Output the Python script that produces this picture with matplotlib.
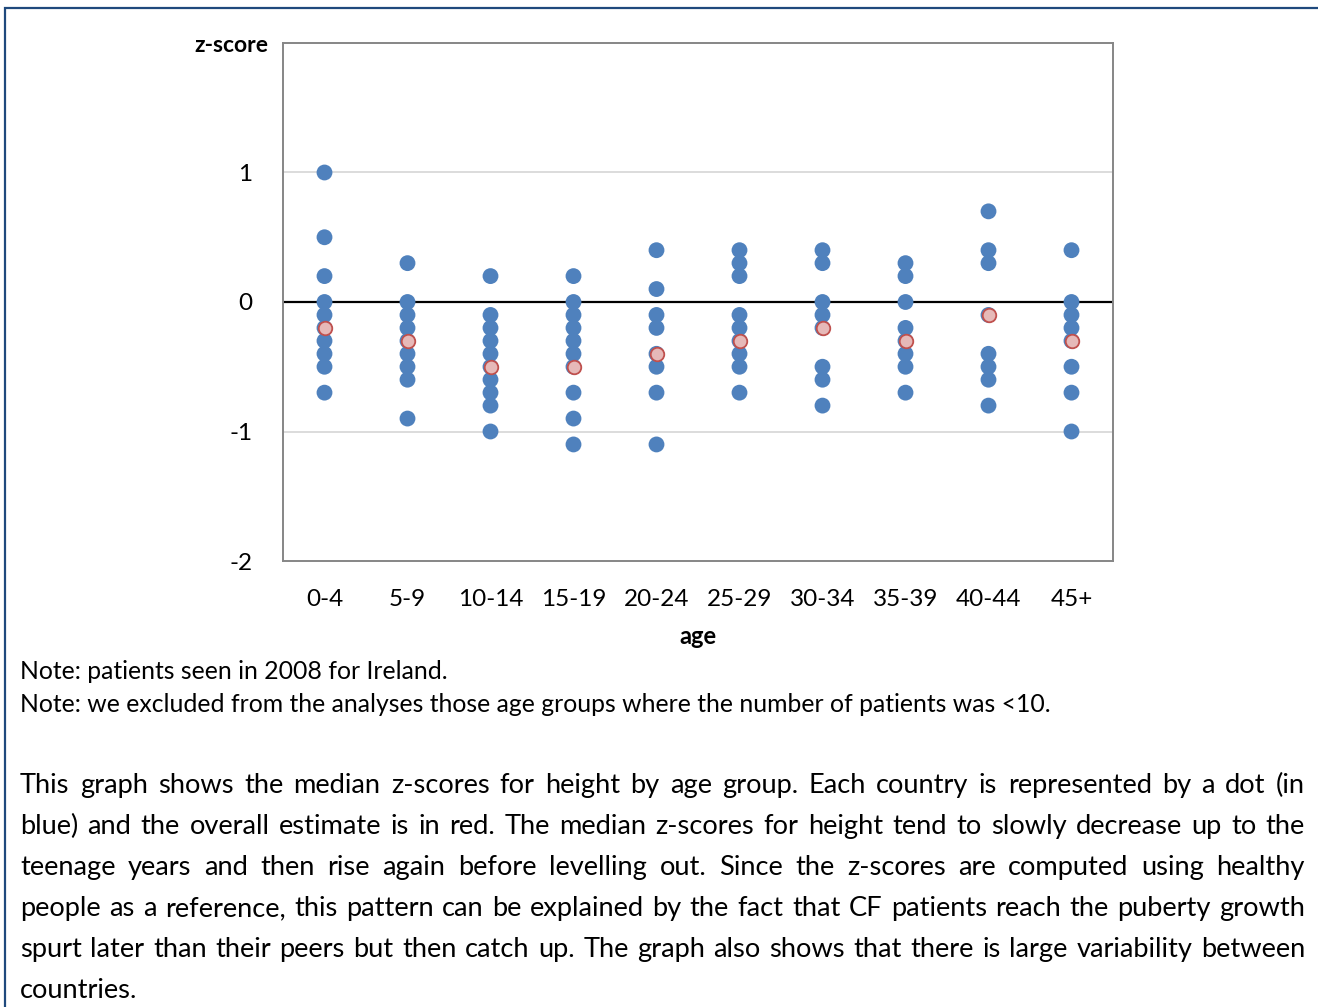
import matplotlib
matplotlib.use("Agg")
import matplotlib.pyplot as plt
from matplotlib.patches import Rectangle

plt.rcParams["font.family"] = ["Lato", "DejaVu Sans"]

# median z-scores for height, one list per age group (blue = countries, red = overall)
age_groups = ["0-4", "5-9", "10-14", "15-19", "20-24", "25-29", "30-34", "35-39", "40-44", "45+"]
country_scores = [
    [1.0, 0.5, 0.2, 0.0, -0.1, -0.2, -0.3, -0.4, -0.5, -0.7],
    [0.3, 0.0, -0.1, -0.2, -0.3, -0.4, -0.5, -0.6, -0.9],
    [0.2, -0.1, -0.2, -0.3, -0.4, -0.5, -0.6, -0.7, -0.8, -1.0],
    [0.2, 0.0, -0.1, -0.2, -0.3, -0.4, -0.5, -0.7, -0.9, -1.1],
    [0.4, 0.1, -0.1, -0.2, -0.4, -0.5, -0.7, -1.1],
    [0.4, 0.3, 0.2, -0.1, -0.2, -0.3, -0.4, -0.5, -0.7],
    [0.4, 0.3, 0.0, -0.1, -0.2, -0.5, -0.6, -0.8],
    [0.3, 0.2, 0.0, -0.2, -0.3, -0.4, -0.5, -0.7],
    [0.7, 0.4, 0.3, -0.1, -0.4, -0.5, -0.6, -0.8],
    [0.4, 0.0, -0.1, -0.2, -0.3, -0.5, -0.7, -1.0],
]
overall_scores = [-0.2, -0.3, -0.5, -0.5, -0.4, -0.3, -0.2, -0.3, -0.1, -0.3]
y_ticks = [-2, -1, 0, 1]

note_lines = [
    "Note: patients seen in 2008 for Ireland.",
    "Note: we excluded from the analyses those age groups where the number of patients was <10.",
]
body_lines = [
    "This graph shows the median z-scores for height by age group. Each country is represented by a dot (in",
    "blue) and the overall estimate is in red. The median z-scores for height tend to slowly decrease up to the",
    "teenage years and then rise again before levelling out. Since the z-scores are computed using healthy",
    "people as a reference, this pattern can be explained by the fact that CF patients reach the puberty growth",
    "spurt later than their peers but then catch up. The graph also shows that there is large variability between",
    "countries.",
]

W, H = 1318, 1007
fig = plt.figure(figsize=(W / 100, H / 100), dpi=100)
fig.patch.set_facecolor("white")

# outer frame of the page box
fig.patches.append(Rectangle((5 / W, -0.1), 1.2, 1 - 8 / H + 0.1, transform=fig.transFigure,
                             fill=False, edgecolor="#1F497D", linewidth=1.6))

ax = fig.add_axes([283 / W, 1 - 561 / H, (1113 - 283) / W, (561 - 43) / H])
for g, vals in zip(age_groups, country_scores):
    ax.scatter([g] * len(vals), vals, s=130, color="#4F81BD", edgecolors="none", zorder=3)
ax.scatter(age_groups, overall_scores, s=95, color="#E6B9B8", edgecolors="#C0504D",
           linewidths=1.3, zorder=4)

ax.set_xlim(-0.5, len(age_groups) - 0.5)
ax.set_ylim(-2, 2)
ax.set_yticks(y_ticks)
ax.set_yticklabels([str(t) for t in y_ticks])
for yv in (1, -1):
    ax.axhline(yv, color="#D9D9D9", lw=1.3, zorder=1)
ax.axhline(0, color="black", lw=1.6, zorder=2)
ax.tick_params(axis="both", length=0, labelsize=17.5, colors="black")
ax.tick_params(axis="y", pad=22)
ax.tick_params(axis="x", pad=20)
for sp in ax.spines.values():
    sp.set_color("#868686")
    sp.set_linewidth(1.4)

fig.text(268 / W, 1 - 46 / H, "z-score", ha="right", va="center", fontsize=16.5, fontweight="bold")
fig.text(698 / W, 1 - 636 / H, "age", ha="center", va="center", fontsize=17, fontweight="bold")

# notes
for i, line in enumerate(note_lines):
    fig.text(20 / W, 1 - (679 + 33 * i) / H, line, ha="left", va="baseline", fontsize=17.8)

# justified body paragraph
BODY_FS = 19.6
fig.canvas.draw()
renderer = fig.canvas.get_renderer()
x_left, x_right = 20, 1305
for i, line in enumerate(body_lines):
    y = 1 - (793 + 41 * i) / H
    words = line.split(" ")
    texts = [fig.text(0, y, w, ha="left", va="baseline", fontsize=BODY_FS) for w in words]
    widths = [t.get_window_extent(renderer).width for t in texts]
    last = i == len(body_lines) - 1
    if last or len(words) == 1:
        gap_w = BODY_FS * 100 / 72 * 0.25
    else:
        gap_w = (x_right - x_left - sum(widths)) / (len(words) - 1)
    x = x_left
    for t, w in zip(texts, widths):
        t.set_x(x / W)
        x += w + gap_w

fig.savefig("out.png", dpi=100)
